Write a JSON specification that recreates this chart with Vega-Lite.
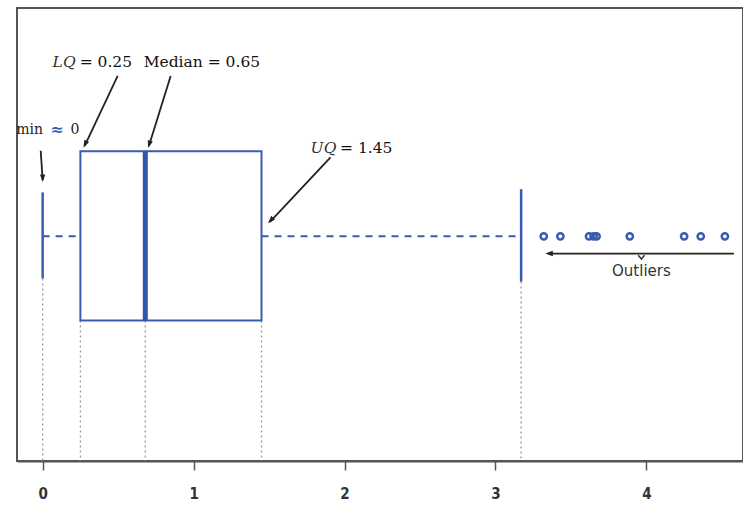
{
  "$schema": "https://vega.github.io/schema/vega-lite/v6.json",
  "autosize": {"type": "none"},
  "width": 726,
  "height": 453,
  "padding": {"left": 17, "top": 8, "right": 0, "bottom": 47},
  "background": "white",
  "config": {
    "view": {"stroke": "#555", "strokeWidth": 2},
    "axisX": {
      "grid": false, "title": null,
      "domainColor": "#555", "domainWidth": 2, "tickColor": "#555", "tickWidth": 1.5, "tickSize": 9,
      "labelFont": "DejaVu Sans Condensed", "labelFontSize": 15, "labelColor": "#333", "labelPadding": 16, "labelFontWeight": "bold"
    }
  },
  "datasets": {
    "dotted": [
      {"x": 0, "y": 4.03, "y2": 0},
      {"x": 0.25, "y": 3.1, "y2": 0},
      {"x": 0.68, "y": 3.1, "y2": 0},
      {"x": 1.45, "y": 3.1, "y2": 0},
      {"x": 3.17, "y": 3.96, "y2": 0}
    ],
    "dashes": [
      {"x": 0, "x2": 0.25, "y": 4.96},
      {"x": 1.45, "x2": 3.17, "y": 4.96}
    ],
    "box": [{"lq": 0.25, "uq": 1.45, "bottom": 3.1, "top": 6.84, "median": 0.68}],
    "caps": [
      {"x": 0, "y": 4.03, "y2": 5.93},
      {"x": 3.17, "y": 3.96, "y2": 6.0}
    ],
    "outliers": [
      {"x": 3.32, "y": 4.96}, {"x": 3.43, "y": 4.96}, {"x": 3.62, "y": 4.96}, {"x": 3.65, "y": 4.96},
      {"x": 3.67, "y": 4.96}, {"x": 3.89, "y": 4.96}, {"x": 4.25, "y": 4.96}, {"x": 4.36, "y": 4.96}, {"x": 4.52, "y": 4.96}
    ],
    "arrows": [
      {"x": -0.013, "y": 6.85, "x2": 0, "y2": 6.2},
      {"x": 0.497, "y": 8.5, "x2": 0.279, "y2": 6.96},
      {"x": 0.848, "y": 8.5, "x2": 0.705, "y2": 6.965},
      {"x": 1.907, "y": 6.7, "x2": 1.506, "y2": 5.28},
      {"x": 4.58, "y": 4.58, "x2": 3.35, "y2": 4.58}
    ],
    "heads": [
      {"x": 0, "y": 6.24, "angle": 180},
      {"x": 0.281, "y": 6.99, "angle": 205.3},
      {"x": 0.706, "y": 6.99, "angle": 197.3},
      {"x": 1.51, "y": 5.31, "angle": 223.3},
      {"x": 3.355, "y": 4.58, "angle": 270}
    ],
    "notch": [{"x": 3.967, "y": 4.5}],
    "italic": [
      {"x": 0.066, "y": 8.81, "t": "LQ"},
      {"x": 1.775, "y": 6.92, "t": "UQ"}
    ],
    "roman": [
      {"x": 0.245, "y": 8.81, "t": "= 0.25"},
      {"x": 0.669, "y": 8.81, "t": "Median = 0.65"},
      {"x": 1.97, "y": 6.92, "t": "= 1.45"}
    ],
    "small": [
      {"x": -0.175, "y": 7.3, "t": "min"},
      {"x": 0.185, "y": 7.3, "t": "0"}
    ],
    "approx": [{"x": 0.05, "y": 7.3, "t": "≈"}],
    "outlab": [{"x": 3.967, "y": 4.2, "t": "Outliers"}]
  },
  "encoding": {},
  "layer": [
    {
      "data": {"name": "dotted"},
      "mark": {"type": "rule", "color": "#999", "strokeWidth": 1.3, "strokeDash": [2, 3]},
      "encoding": {
        "x": {"field": "x", "type": "quantitative", "scale": {"domain": [-0.17, 4.64], "nice": false, "zero": false}, "axis": {"values": [0, 1, 2, 3, 4], "format": "d"}},
        "y": {"field": "y", "type": "quantitative", "scale": {"domain": [0, 10], "nice": false}, "axis": null},
        "y2": {"field": "y2"}
      }
    },
    {
      "data": {"name": "dashes"},
      "mark": {"type": "rule", "color": "#3a5cb0", "strokeWidth": 2, "strokeDash": [7, 6]},
      "encoding": {
        "x": {"field": "x", "type": "quantitative"},
        "x2": {"field": "x2"},
        "y": {"field": "y", "type": "quantitative"}
      }
    },
    {
      "data": {"name": "box"},
      "mark": {"type": "rect", "fill": "white", "stroke": "#3a5cb0", "strokeWidth": 2},
      "encoding": {
        "x": {"field": "lq", "type": "quantitative"},
        "x2": {"field": "uq"},
        "y": {"field": "bottom", "type": "quantitative"},
        "y2": {"field": "top"}
      }
    },
    {
      "data": {"name": "box"},
      "mark": {"type": "rule", "color": "#2f55b0", "strokeWidth": 5},
      "encoding": {
        "x": {"field": "median", "type": "quantitative"},
        "y": {"field": "bottom", "type": "quantitative"},
        "y2": {"field": "top"}
      }
    },
    {
      "data": {"name": "caps"},
      "mark": {"type": "rule", "color": "#3a5cb0", "strokeWidth": 2.5},
      "encoding": {
        "x": {"field": "x", "type": "quantitative"},
        "y": {"field": "y", "type": "quantitative"},
        "y2": {"field": "y2"}
      }
    },
    {
      "data": {"name": "outliers"},
      "mark": {"type": "point", "shape": "circle", "filled": false, "color": "#3a5cb0", "strokeWidth": 2.5, "size": 40, "opacity": 1},
      "encoding": {
        "x": {"field": "x", "type": "quantitative"},
        "y": {"field": "y", "type": "quantitative"}
      }
    },
    {
      "data": {"name": "arrows"},
      "mark": {"type": "rule", "color": "#222", "strokeWidth": 1.8},
      "encoding": {
        "x": {"field": "x", "type": "quantitative"},
        "y": {"field": "y", "type": "quantitative"},
        "x2": {"field": "x2"},
        "y2": {"field": "y2"}
      }
    },
    {
      "data": {"name": "heads"},
      "mark": {"type": "point", "shape": "M -0.42 0.6 L 0 -0.6 L 0.42 0.6 Z", "filled": true, "color": "#222", "size": 160, "opacity": 1},
      "encoding": {
        "x": {"field": "x", "type": "quantitative"},
        "y": {"field": "y", "type": "quantitative"},
        "angle": {"field": "angle", "type": "quantitative", "scale": null}
      }
    },
    {
      "data": {"name": "notch"},
      "mark": {"type": "point", "shape": "M -1 -0.6 L 0 0.6 L 1 -0.6", "filled": false, "color": "#333", "strokeWidth": 1.5, "size": 40, "opacity": 1},
      "encoding": {
        "x": {"field": "x", "type": "quantitative"},
        "y": {"field": "y", "type": "quantitative"}
      }
    },
    {
      "data": {"name": "italic"},
      "mark": {"type": "text", "align": "left", "baseline": "middle", "font": "DejaVu Serif", "fontStyle": "italic", "fontSize": 15.5, "fill": "#333"},
      "encoding": {
        "x": {"field": "x", "type": "quantitative"},
        "y": {"field": "y", "type": "quantitative"},
        "text": {"field": "t"}
      }
    },
    {
      "data": {"name": "roman"},
      "mark": {"type": "text", "align": "left", "baseline": "middle", "font": "DejaVu Serif", "fontSize": 15.5, "fill": "#111"},
      "encoding": {
        "x": {"field": "x", "type": "quantitative"},
        "y": {"field": "y", "type": "quantitative"},
        "text": {"field": "t"}
      }
    },
    {
      "data": {"name": "small"},
      "mark": {"type": "text", "align": "left", "baseline": "middle", "font": "DejaVu Serif", "fontSize": 14, "fill": "#222"},
      "encoding": {
        "x": {"field": "x", "type": "quantitative"},
        "y": {"field": "y", "type": "quantitative"},
        "text": {"field": "t"}
      }
    },
    {
      "data": {"name": "approx"},
      "mark": {"type": "text", "align": "left", "baseline": "middle", "font": "DejaVu Serif", "fontSize": 16, "fontWeight": "bold", "fill": "#3a5cb0"},
      "encoding": {
        "x": {"field": "x", "type": "quantitative"},
        "y": {"field": "y", "type": "quantitative"},
        "text": {"field": "t"}
      }
    },
    {
      "data": {"name": "outlab"},
      "mark": {"type": "text", "align": "center", "baseline": "middle", "font": "DejaVu Sans", "fontSize": 15, "fill": "#333"},
      "encoding": {
        "x": {"field": "x", "type": "quantitative"},
        "y": {"field": "y", "type": "quantitative"},
        "text": {"field": "t"}
      }
    }
  ]
}
